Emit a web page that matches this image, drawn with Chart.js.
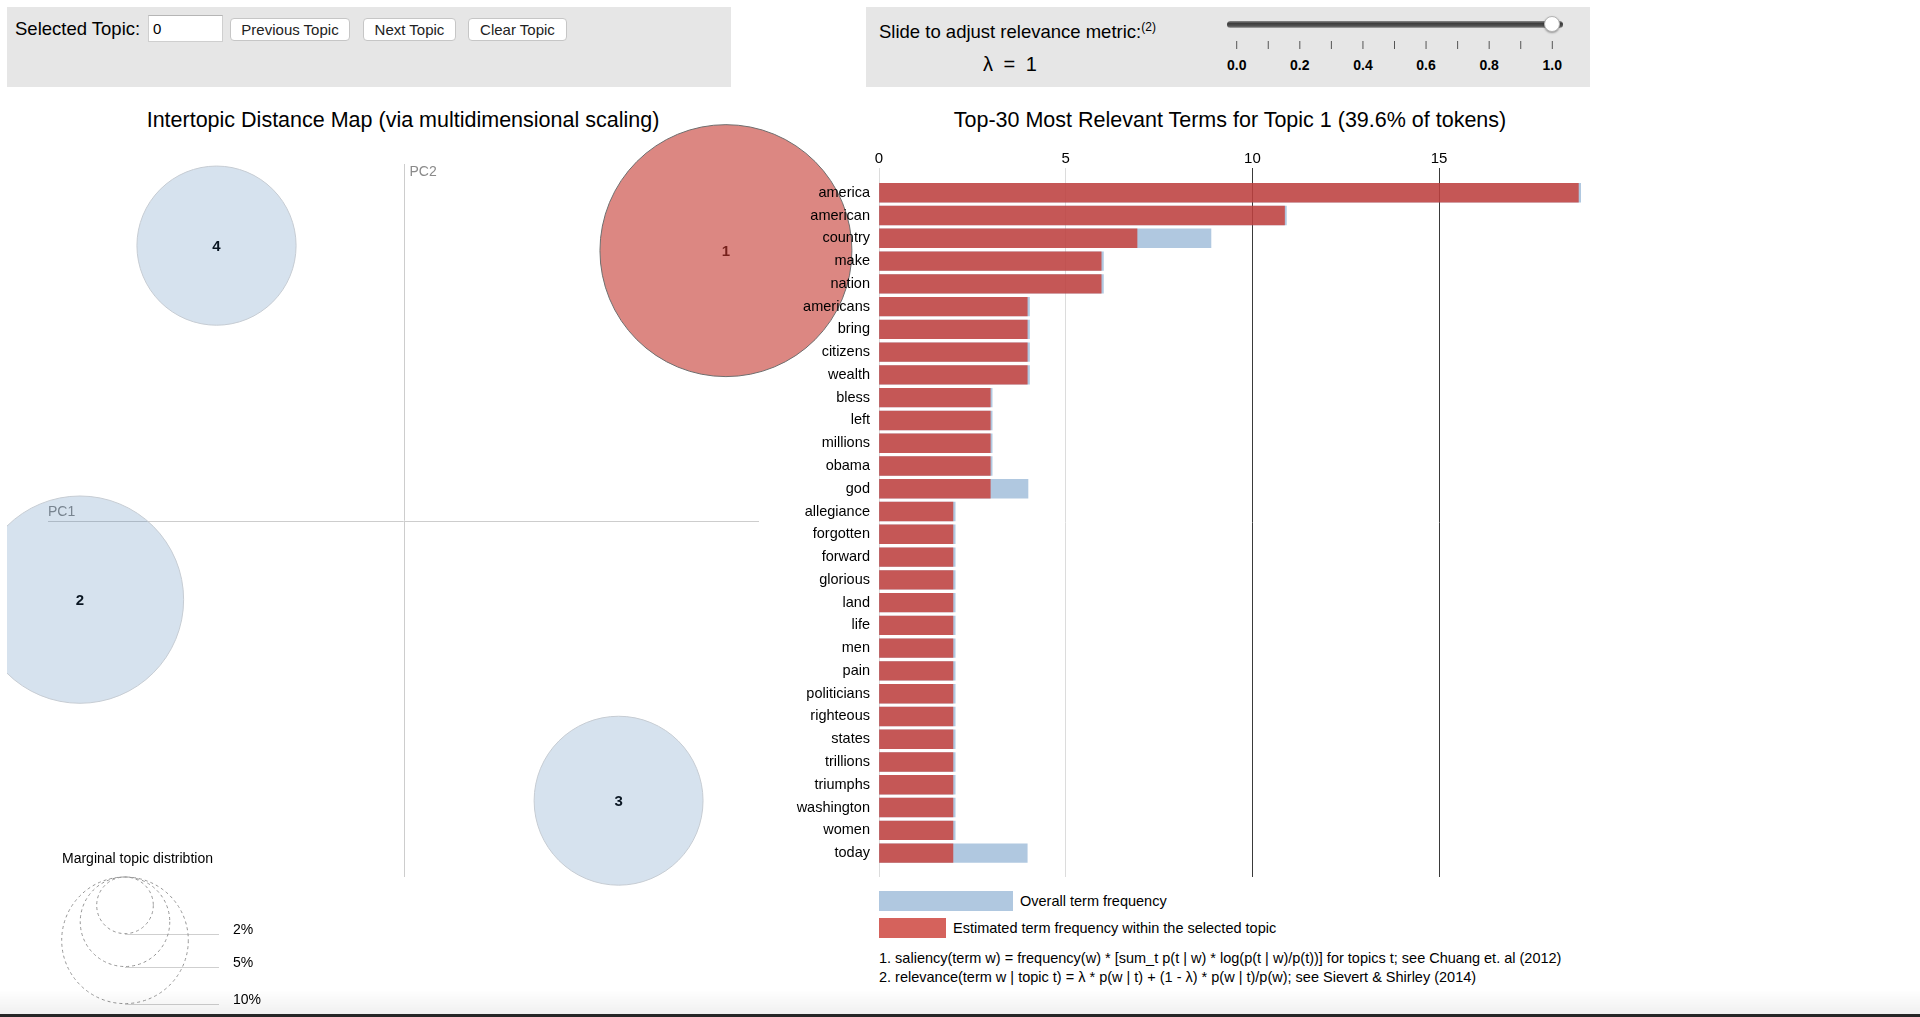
<!DOCTYPE html>
<html lang="en">
    <head>
        <meta charset="UTF-8">
        <title>LDAvis topic 1</title>
        <style>
            body { margin: 0; width: 1920px; height: 1017px; overflow: hidden; background: #fff;
                   font-family: "Liberation Sans", Arial, sans-serif; color: #000; position: relative; }
            .abs { position: absolute; white-space: nowrap; }
            .panel { position: absolute; background: #e6e6e6; top: 7px; height: 80px; width: 724px; }
            .btn { position: absolute; top: 18px; height: 23px; box-sizing: border-box; background: #fff;
                   border: 1px solid #c6c6c6; border-radius: 4px; font: 15px "Liberation Sans", Arial, sans-serif;
                   color: #222; text-align: center; line-height: 21px; }
            .title { position: absolute; top: 107px; font-size: 21.5px; line-height: 26px; text-align: center; white-space: nowrap; }
            canvas { position: absolute; }
        </style>
    </head>
    <body>
        <div class="panel" style="left:7px;"></div>
        <div class="abs" style="left:15px; top:18px; font-size:18.5px; line-height:22px;">Selected Topic:</div>
        <div class="abs" style="left:148px; top:15px; width:75px; height:27px; box-sizing:border-box; background:#fff; border:1px solid #cfcfcf; border-top-color:#b5b5b5; font-size:15px; line-height:25px; padding-left:4px;">0</div>
        <div class="btn" style="left:230px; width:120px;">Previous Topic</div>
        <div class="btn" style="left:363px; width:93px;">Next Topic</div>
        <div class="btn" style="left:468px; width:99px;">Clear Topic</div>

        <div class="panel" style="left:866px;"></div>
        <div class="abs" style="left:879px; top:21px; font-size:18.5px; line-height:22px;">Slide to adjust relevance metric:<span style="font-size:12px; position:relative; top:-7px;">(2)</span></div>
        <div class="abs" style="left:950px; width:120px; top:52px; font-size:20px; line-height:24px; text-align:center; word-spacing:5px;">&lambda; = 1</div>
        <div class="abs" style="left:1227px; top:21px; width:336px; height:7px; border-radius:4px; background:linear-gradient(to bottom,#8a8a8a,#3e3e3e 35%,#555 75%,#b0b0b0);"></div>
        <div class="abs" style="left:1544px; top:16px; width:16px; height:16px; box-sizing:border-box; border-radius:50%; background:#fff; border:1px solid #b4b4b4; box-shadow:0 1px 2px rgba(0,0,0,0.35);"></div>
        <svg id="lambdaAxis" class="abs" style="left:1200px; top:30px;" width="400" height="50"></svg>

        <div class="title" style="left:103px; width:600px;">Intertopic Distance Map (via multidimensional scaling)</div>
        <div class="title" style="left:930px; width:600px;">Top-30 Most Relevant Terms for Topic 1 (39.6% of tokens)</div>

        <canvas id="mds" width="860" height="921" style="left:7px; top:96px;"></canvas>
        <canvas id="bars" width="880" height="760" style="left:760px; top:130px;"></canvas>

        <div class="abs" style="left:879px; top:891px; width:134px; height:20px; background:#b0c8e0;"></div>
        <div class="abs" style="left:1020px; top:892px; font-size:14.5px; line-height:18px;">Overall term frequency</div>
        <div class="abs" style="left:879px; top:918px; width:67px; height:20px; background:#d5625c;"></div>
        <div class="abs" style="left:953px; top:919px; font-size:14.5px; line-height:18px;">Estimated term frequency within the selected topic</div>
        <div class="abs" style="left:879px; top:949px; font-size:14.5px; line-height:19px;">1. saliency(term w) = frequency(w) * [sum_t p(t | w) * log(p(t | w)/p(t))] for topics t; see Chuang et. al (2012)<br>2. relevance(term w | topic t) = &lambda; * p(w | t) + (1 - &lambda;) * p(w | t)/p(w); see Sievert &amp; Shirley (2014)</div>

        <div class="abs" style="left:0; top:990px; width:1920px; height:24px; background:linear-gradient(to bottom,rgba(0,0,0,0),rgba(0,0,0,0.06));"></div>
        <div class="abs" style="left:0; top:1014px; width:1920px; height:3px; background:#262626;"></div>
    </body>

    <script src="https://cdn.jsdelivr.net/npm/chart.js@4.4.1/dist/chart.umd.min.js"></script>

    <script>
        // intertopic distance map
        const topicIds = [1, 2, 3, 4];
        const topicX = [0.907, -0.910, 0.605, -0.526];
        const topicY = [0.757, -0.222, -0.786, 0.771];
        const topicPct = [39.6, 26.8, 17.8, 15.8];
        const selectedTopic = 1;
        const legendPct = [2, 5, 10];

        // top-30 terms for topic 1
        const terms = ["america", "american", "country", "make", "nation", "americans", "bring", "citizens",
            "wealth", "bless", "left", "millions", "obama", "god", "allegiance", "forgotten", "forward",
            "glorious", "land", "life", "men", "pain", "politicians", "righteous", "states", "trillions",
            "triumphs", "washington", "women", "today"];
        const topicFreq = [18.73, 10.86, 6.91, 5.95, 5.95, 3.97, 3.97, 3.97, 3.97, 2.98, 2.98, 2.98, 2.98,
            2.98, 1.98, 1.98, 1.98, 1.98, 1.98, 1.98, 1.98, 1.98, 1.98, 1.98, 1.98, 1.98, 1.98, 1.98, 1.98, 1.98];
        const overallFreq = [18.8, 10.91, 8.89, 6.01, 6.01, 4.03, 4.03, 4.03, 4.03, 3.03, 3.03, 3.03, 3.03,
            3.99, 2.04, 2.04, 2.04, 2.04, 2.04, 2.04, 2.04, 2.04, 2.04, 2.04, 2.04, 2.04, 2.04, 2.04, 2.04, 3.97];
        const freqTicks = [0, 5, 10, 15];
        const lambdaTicks = [0.0, 0.1, 0.2, 0.3, 0.4, 0.5, 0.6, 0.7, 0.8, 0.9, 1.0];

        const FONT = '"Liberation Sans", Arial, sans-serif';
        Chart.defaults.font.family = FONT;
        Chart.defaults.color = "#000";

        // circle area proportional to the topic's share of tokens
        const radius = pct => 20.02 * Math.sqrt(pct);

        // relevance slider ticks
        const svg = document.getElementById("lambdaAxis");
        let marks = "";
        lambdaTicks.forEach((v, i) => {
            const x = 36.7 + v * 315.6;
            marks += `<line x1="${x}" x2="${x}" y1="11" y2="19" stroke="#555" stroke-width="1"/>`;
            if (i % 2 === 0) {
                marks += `<text x="${x}" y="40" text-anchor="middle" font-family='${FONT}' font-size="14" font-weight="bold">${v.toFixed(1)}</text>`;
            }
        });
        svg.innerHTML = marks;

        // PC axes through the origin, and topic numbers under the translucent circles
        const pcAxes = {
            id: "pcAxes",
            beforeDatasetsDraw(chart) {
                const { ctx, chartArea: a, scales: { x, y } } = chart;
                const x0 = Math.round(x.getPixelForValue(0)) + 0.5;
                const y0 = Math.round(y.getPixelForValue(0)) + 0.5;
                ctx.save();
                ctx.strokeStyle = "#cdcdcd";
                ctx.lineWidth = 1;
                ctx.beginPath();
                ctx.moveTo(x0, a.top); ctx.lineTo(x0, a.bottom);
                ctx.moveTo(a.left, y0); ctx.lineTo(a.right, y0);
                ctx.stroke();
                ctx.fillStyle = "#8a8a8a";
                ctx.font = "14px " + FONT;
                ctx.textBaseline = "top";
                ctx.fillText("PC2", x0 + 5, a.top + 1);
                ctx.textBaseline = "alphabetic";
                ctx.fillText("PC1", a.left, y0 - 6);

                const pts = chart.getDatasetMeta(0).data;
                ctx.font = "bold 15px " + FONT;
                ctx.fillStyle = "#000";
                ctx.textAlign = "center";
                ctx.textBaseline = "middle";
                pts.forEach((p, i) => ctx.fillText(String(topicIds[i]), p.x, p.y + 1));
                ctx.restore();
            }
        };

        const marginalLegend = {
            id: "marginalLegend",
            afterDraw(chart) {
                const { ctx, chartArea: a } = chart;
                const cx = a.left + 77, top = a.bottom;
                ctx.save();
                ctx.fillStyle = "#000";
                ctx.font = "14px " + FONT;
                ctx.textBaseline = "middle";
                ctx.fillText("Marginal topic distribtion", a.left + 14, top - 18);
                legendPct.forEach(p => {
                    const r = radius(p);
                    const bottom = top + 2 * r;
                    ctx.setLineDash([3, 3]);
                    ctx.strokeStyle = "#959595";
                    ctx.beginPath();
                    ctx.arc(cx, top + r, r, 0, Math.PI * 2);
                    ctx.stroke();
                    ctx.setLineDash([]);
                    ctx.strokeStyle = "#cfcfcf";
                    ctx.beginPath();
                    ctx.moveTo(cx, Math.round(bottom) + 0.5);
                    ctx.lineTo(a.left + 171, Math.round(bottom) + 0.5);
                    ctx.stroke();
                    ctx.fillStyle = "#000";
                    ctx.fillText(p + "%", a.left + 185, bottom - 3);
                });
                ctx.restore();
            }
        };

        new Chart(document.getElementById("mds"), {
            type: "bubble",
            data: {
                datasets: [{
                    data: topicIds.map((t, i) => ({ x: topicX[i], y: topicY[i], r: radius(topicPct[i]) })),
                    backgroundColor: topicIds.map(t => t === selectedTopic ? "rgba(197,55,47,0.6)" : "rgba(50,110,170,0.2)"),
                    borderColor: topicIds.map(t => t === selectedTopic ? "#6e6e6e" : "#c6ccd3"),
                    borderWidth: 1,
                    clip: false,
                }],
            },
            options: {
                responsive: false,
                animation: false,
                events: [],
                layout: { autoPadding: false, padding: { left: 41, right: 108, top: 68, bottom: 140 } },
                scales: {
                    x: { display: false, min: -1, max: 1 },
                    y: { display: false, min: -1, max: 1 },
                },
                plugins: { legend: { display: false }, tooltip: { enabled: false } },
            },
            plugins: [pcAxes, marginalLegend],
        });

        new Chart(document.getElementById("bars"), {
            type: "bar",
            data: {
                datasets: [
                    { label: "Estimated term frequency within the selected topic",
                      data: topicFreq.map((v, i) => ({ x: v, y: i })), backgroundColor: "rgba(203,59,51,0.8)" },
                    { label: "Overall term frequency",
                      data: overallFreq.map((v, i) => ({ x: v, y: i })), backgroundColor: "rgba(58,118,178,0.4)" },
                ],
            },
            options: {
                indexAxis: "y",
                responsive: false,
                animation: false,
                events: [],
                datasets: { bar: { grouped: false, barThickness: 18.7 } },
                layout: { autoPadding: false, padding: { top: 0, right: 59, bottom: 13, left: 0 } },
                scales: {
                    x: {
                        type: "linear", position: "top", min: 0, max: 18.8,
                        afterFit: s => { s.height = 37.7; },
                        afterBuildTicks: s => { s.ticks = freqTicks.map(v => ({ value: v })); },
                        grid: { color: c => (c.tick && c.tick.value >= 10) ? "#3a3a3a" : "#dcdcdc", drawTicks: false },
                        border: { display: false },
                        ticks: { color: "#000", font: { size: 15 }, padding: 0 },
                    },
                    y: {
                        type: "linear", reverse: true, offset: false, min: -1.1, max: 30.05,
                        afterFit: s => { s.width = 119; },
                        afterBuildTicks: s => { s.ticks = terms.map((t, i) => ({ value: i })); },
                        grid: { display: false, offset: false },
                        border: { display: false },
                        ticks: { color: "#000", font: { size: 14.5 }, padding: 1, autoSkip: false,
                                 callback: v => terms[v] },
                    },
                },
                plugins: { legend: { display: false }, tooltip: { enabled: false } },
            },
        });
    </script>
</html>
